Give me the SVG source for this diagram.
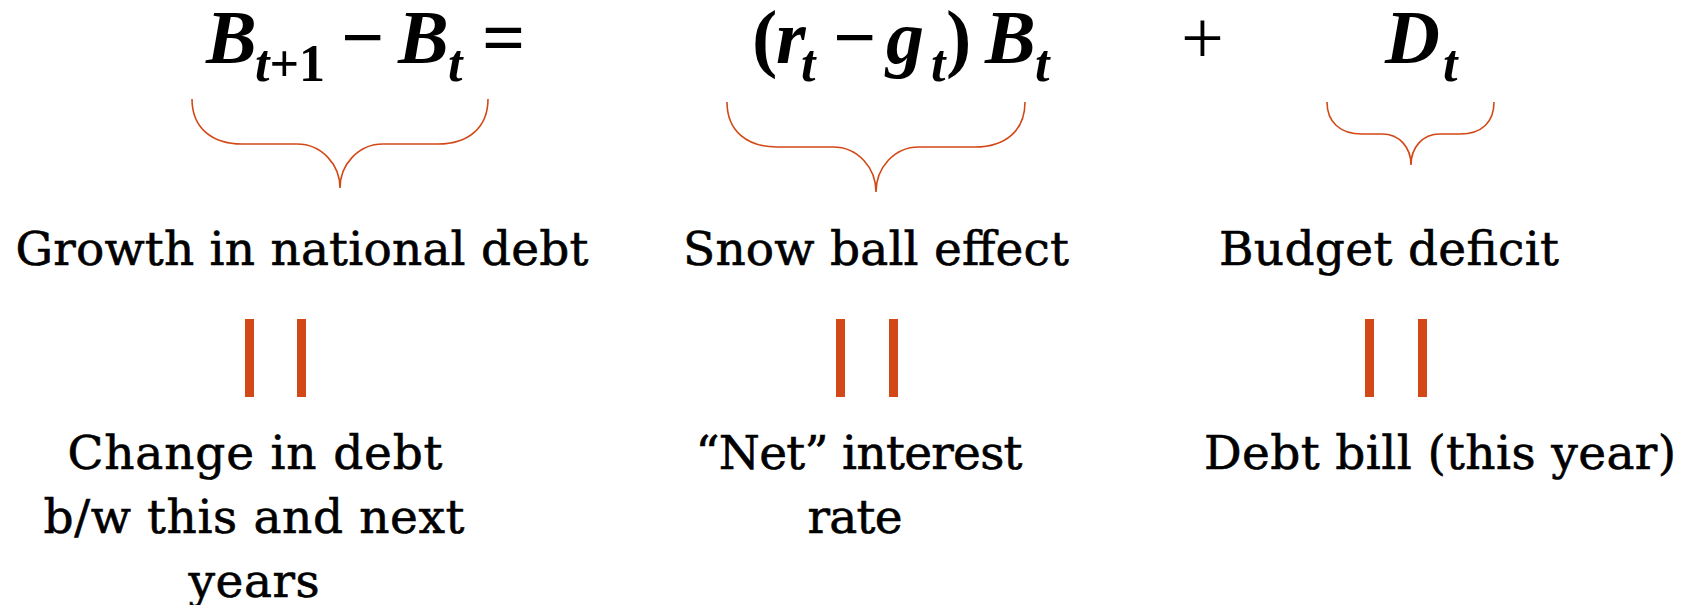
<svg xmlns="http://www.w3.org/2000/svg" width="1685" height="605" viewBox="0 0 1685 605">
<style>
.eq{font-family:"Liberation Serif","Times New Roman",serif;font-weight:bold;font-style:italic;font-size:76px;fill:#000}
.sub{font-size:52px}
.up{font-style:normal}
.op{font-family:"Liberation Serif","Times New Roman",serif;font-weight:bold;font-style:normal;font-size:76px;fill:#000}
.plus{font-family:"Liberation Serif","Times New Roman",serif;font-weight:normal;font-size:76px;fill:#000}
.lbl{font-family:"DejaVu Serif",serif;font-size:47px;fill:#000;stroke:#000;stroke-width:0.6;text-anchor:middle}
.brace{fill:none;stroke:#D34817;stroke-width:1.6}
.bar{fill:#D34817}
</style>
<g id="equation">
<text class="eq" x="206" y="63">B</text>
<text class="eq sub" x="255" y="81">t<tspan class="up">+1</tspan></text>
<text class="op" x="341" y="63">−</text>
<text class="eq" x="398" y="63">B</text>
<text class="eq sub" x="448" y="81">t</text>
<text class="op" x="482" y="63">=</text>
<text class="eq up" x="752" y="63">(</text>
<text class="eq" x="776" y="63">r</text>
<text class="eq sub" x="801" y="81">t</text>
<text class="op" x="833" y="63">−</text>
<text class="eq" x="886" y="63">g</text>
<text class="eq sub" x="931" y="81">t</text>
<text class="eq up" x="946" y="63">)</text>
<text class="eq" x="985" y="63">B</text>
<text class="eq sub" x="1035" y="81">t</text>
<text class="plus" x="1181" y="63">+</text>
<text class="eq" x="1385" y="63">D</text>
<text class="eq sub" x="1443" y="81">t</text>
</g>
<g id="connectors">
<path class="brace" d="M192,99 C192,128 212,144 242,144 L297,144 C322,144 340,165 340,188 C340,165 358,144 383,144 L438,144 C468,144 488,128 488,99"/>
<path class="brace" d="M727,102 C727,131 747,147 777,147 L833,147 C858,147 876,168 876,192 C876,168 894,147 919,147 L975,147 C1005,147 1025,131 1025,102"/>
<path class="brace" d="M1327,102 C1327,122 1340,134 1362,134 L1382,134 C1400,134 1411,148 1411,165 C1411,148 1422,134 1440,134 L1460,134 C1482,134 1494,122 1494,102"/>
<rect class="bar" x="245" y="319" width="9" height="78"/>
<rect class="bar" x="297" y="319" width="9" height="78"/>
<rect class="bar" x="836" y="319" width="9" height="78"/>
<rect class="bar" x="889" y="319" width="9" height="78"/>
<rect class="bar" x="1365" y="319" width="9" height="78"/>
<rect class="bar" x="1418" y="319" width="9" height="78"/>
</g>
<g id="node-growth">
<text class="lbl" x="302" y="265" textLength="573">Growth in national debt</text>
<text class="lbl" x="255" y="469" textLength="375">Change in debt</text>
<text class="lbl" x="254" y="533" textLength="421">b/w this and next</text>
<text class="lbl" x="254" y="597" textLength="131">years</text>
</g>
<g id="node-snowball">
<text class="lbl" x="876" y="265" textLength="386">Snow ball effect</text>
<text class="lbl" x="859" y="469" textLength="327">“Net” interest</text>
<text class="lbl" x="855" y="533" textLength="95">rate</text>
</g>
<g id="node-deficit">
<text class="lbl" x="1389" y="265" textLength="340">Budget deficit</text>
<text class="lbl" x="1440" y="469" textLength="472">Debt bill (this year)</text>
</g>
</svg>
